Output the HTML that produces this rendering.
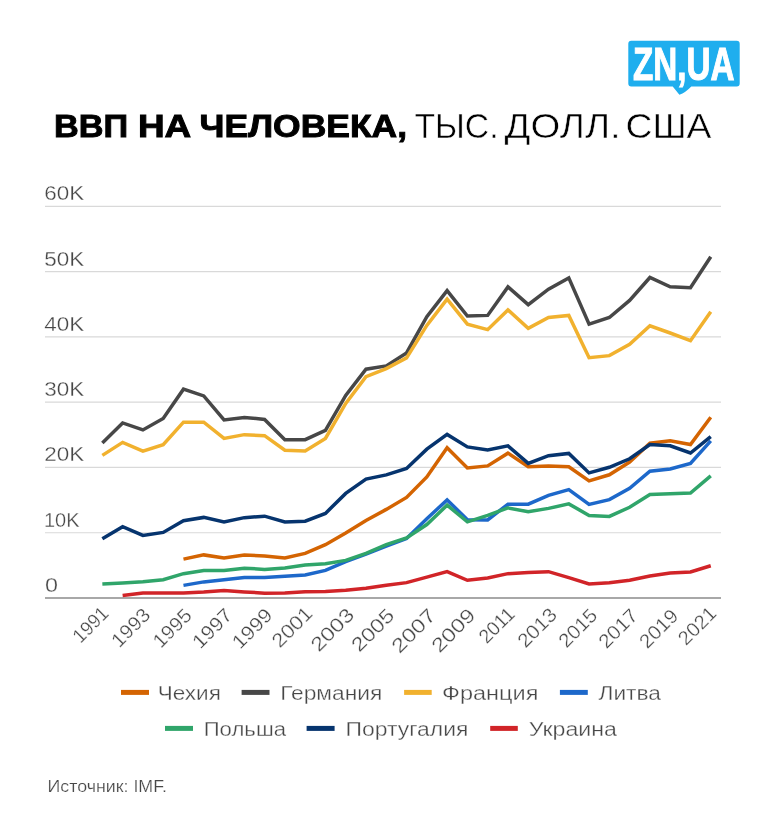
<!DOCTYPE html>
<html lang="ru"><head><meta charset="utf-8"><title>ВВП на человека, тыс. долл. США</title>
<style>html,body{margin:0;padding:0;background:#fff}body{width:784px;height:839px;overflow:hidden}svg{display:block}text{font-family:"Liberation Sans", sans-serif}</style></head><body>
<svg width="784" height="839" viewBox="0 0 784 839">
<rect width="784" height="839" fill="#ffffff"/>
<g id="logo">
<path d="M631.3 40.8H736.7a3 3 0 0 1 3 3V83.4a3 3 0 0 1 -3 3H691.3Q685.5 92.5 679.4 94.7L672.7 86.4H631.3a3 3 0 0 1 -3 -3V43.8a3 3 0 0 1 3 -3Z" fill="#1FAEEE"/>
<text x="633.0" y="79.8" font-size="45.6" font-weight="bold" fill="#ffffff" stroke="#ffffff" stroke-width="1.1" stroke-linejoin="miter" textLength="101.5" lengthAdjust="spacingAndGlyphs">ZN,UA</text>
</g>
<g id="title" fill="#000000">
<text y="137.20" font-size="31.60" font-weight="bold" stroke="#000000" stroke-width="0.90"><tspan x="53.90" textLength="74.15" lengthAdjust="spacingAndGlyphs">ВВП</tspan> <tspan x="137.96" textLength="53.33" lengthAdjust="spacingAndGlyphs">НА</tspan> <tspan x="199.61" textLength="207.47" lengthAdjust="spacingAndGlyphs">ЧЕЛОВЕКА,</tspan></text>
<text y="138.20" font-size="34.60" stroke="#ffffff" stroke-width="0.50"><tspan x="414.38" textLength="84.14" lengthAdjust="spacingAndGlyphs">ТЫС.</tspan> <tspan x="504.54" textLength="116.23" lengthAdjust="spacingAndGlyphs">ДОЛЛ.</tspan> <tspan x="625.42" textLength="86.13" lengthAdjust="spacingAndGlyphs">США</tspan></text>
</g>
<g id="grid" stroke="#d9d9d9" stroke-width="1.2">
<line x1="45.00" y1="206.40" x2="721.00" y2="206.40"/>
<line x1="45.00" y1="271.67" x2="721.00" y2="271.67"/>
<line x1="45.00" y1="336.93" x2="721.00" y2="336.93"/>
<line x1="45.00" y1="402.20" x2="721.00" y2="402.20"/>
<line x1="45.00" y1="467.47" x2="721.00" y2="467.47"/>
<line x1="45.00" y1="532.73" x2="721.00" y2="532.73"/>
</g>
<line x1="45.00" y1="598.00" x2="721.00" y2="598.00" stroke="#a8a8a8" stroke-width="2"/>
<g id="ylabels" fill="#474747" font-size="19.6" stroke="#ffffff" stroke-width="0.3">
<text x="44.3" y="200.15" textLength="40.0" lengthAdjust="spacingAndGlyphs">60K</text>
<text x="44.3" y="266.30" textLength="40.0" lengthAdjust="spacingAndGlyphs">50K</text>
<text x="44.3" y="331.25" textLength="40.0" lengthAdjust="spacingAndGlyphs">40K</text>
<text x="44.3" y="396.30" textLength="40.0" lengthAdjust="spacingAndGlyphs">30K</text>
<text x="44.3" y="461.25" textLength="40.0" lengthAdjust="spacingAndGlyphs">20K</text>
<text x="44.0" y="527.20" textLength="35.6" lengthAdjust="spacingAndGlyphs">10K</text>
<text x="45.0" y="592.00" textLength="13.0" lengthAdjust="spacingAndGlyphs">0</text>
</g>
<g id="series" fill="none" stroke-width="3.5" stroke-linejoin="miter" stroke-linecap="butt">
<polyline stroke="#D46402" points="183.47,559.15 203.75,554.90 224.03,557.90 244.31,554.90 264.59,555.90 284.87,557.90 305.15,553.40 325.43,544.65 345.71,532.90 365.99,520.40 386.27,509.40 406.55,497.40 426.83,476.90 447.11,447.80 467.39,467.90 487.67,465.90 507.95,453.15 528.23,466.65 548.51,465.90 568.79,466.80 589.07,480.90 609.35,474.80 629.63,462.00 649.91,443.25 670.19,440.75 690.47,444.50 710.75,417.20"/>
<polyline stroke="#474747" points="102.35,442.90 122.63,422.90 142.91,429.90 163.19,418.40 183.47,389.15 203.75,395.90 224.03,419.90 244.31,417.40 264.59,419.40 284.87,439.75 305.15,439.65 325.43,430.40 345.71,395.40 365.99,369.15 386.27,365.90 406.55,352.90 426.83,316.65 447.11,290.65 467.39,316.00 487.67,315.40 507.95,286.90 528.23,304.65 548.51,289.15 568.79,277.90 589.07,324.15 609.35,317.50 629.63,300.40 649.91,277.50 670.19,286.75 690.47,287.75 710.75,256.75"/>
<polyline stroke="#F1B12E" points="102.35,455.40 122.63,442.40 142.91,451.15 163.19,444.65 183.47,422.15 203.75,422.15 224.03,438.40 244.31,434.65 264.59,435.65 284.87,450.15 305.15,450.90 325.43,438.40 345.71,403.40 365.99,376.65 386.27,368.65 406.55,357.90 426.83,325.40 447.11,299.15 467.39,324.15 487.67,329.65 507.95,309.90 528.23,328.40 548.51,317.40 568.79,315.40 589.07,357.65 609.35,355.65 629.63,344.40 649.91,325.75 670.19,333.00 690.47,340.75 710.75,311.75"/>
<polyline stroke="#1D68CA" points="183.47,585.40 203.75,581.90 224.03,579.65 244.31,577.40 264.59,577.40 284.87,576.15 305.15,574.90 325.43,570.40 345.71,561.65 365.99,554.15 386.27,546.15 406.55,538.40 426.83,518.80 447.11,499.90 467.39,519.65 487.67,519.90 507.95,504.15 528.23,504.15 548.51,495.40 568.79,489.65 589.07,504.40 609.35,499.65 629.63,488.30 649.91,471.25 670.19,469.00 690.47,463.50 710.75,440.85"/>
<polyline stroke="#30A56A" points="102.35,583.90 122.63,582.90 142.91,581.65 163.19,579.65 183.47,573.65 203.75,570.40 224.03,570.40 244.31,568.15 264.59,569.40 284.87,568.00 305.15,564.90 325.43,563.65 345.71,560.40 365.99,553.40 386.27,544.65 406.55,537.90 426.83,524.55 447.11,505.15 467.39,521.80 487.67,515.40 507.95,507.90 528.23,511.65 548.51,508.40 568.79,503.90 589.07,515.40 609.35,516.40 629.63,507.30 649.91,494.50 670.19,493.75 690.47,493.00 710.75,475.85"/>
<polyline stroke="#06346E" points="102.35,538.65 122.63,526.65 142.91,535.40 163.19,532.40 183.47,520.65 203.75,517.40 224.03,521.90 244.31,517.65 264.59,516.15 284.87,522.00 305.15,521.15 325.43,513.40 345.71,493.40 365.99,479.15 386.27,474.90 406.55,468.40 426.83,449.15 447.11,434.40 467.39,446.90 487.67,449.90 507.95,445.90 528.23,463.40 548.51,455.65 568.79,453.40 589.07,472.90 609.35,467.30 629.63,458.80 649.91,444.50 670.19,445.75 690.47,453.00 710.75,436.60"/>
<polyline stroke="#D12428" points="122.63,595.40 142.91,592.90 163.19,592.90 183.47,592.90 203.75,591.90 224.03,590.40 244.31,591.90 264.59,593.15 284.87,593.00 305.15,591.65 325.43,591.40 345.71,590.15 365.99,588.15 386.27,585.15 406.55,582.65 426.83,577.15 447.11,571.65 467.39,580.30 487.67,577.90 507.95,573.65 528.23,572.40 548.51,571.65 568.79,577.65 589.07,583.90 609.35,582.80 629.63,580.15 649.91,576.00 670.19,573.00 690.47,572.00 710.75,565.75"/>
</g>
<g id="xlabels" fill="#474747" font-size="19.6" text-anchor="end" stroke="#ffffff" stroke-width="0.3">
<text transform="translate(109.95 614.64) rotate(-45)" textLength="41.5" lengthAdjust="spacingAndGlyphs">1991</text>
<text transform="translate(151.63 616.04) rotate(-45)" textLength="45.8" lengthAdjust="spacingAndGlyphs">1993</text>
<text transform="translate(193.03 616.74) rotate(-45)" textLength="45.7" lengthAdjust="spacingAndGlyphs">1995</text>
<text transform="translate(233.59 616.32) rotate(-45)" textLength="47.2" lengthAdjust="spacingAndGlyphs">1997</text>
<text transform="translate(273.73 616.46) rotate(-45)" textLength="47.6" lengthAdjust="spacingAndGlyphs">1999</text>
<text transform="translate(313.73 614.64) rotate(-45)" textLength="48.2" lengthAdjust="spacingAndGlyphs">2001</text>
<text transform="translate(355.41 616.04) rotate(-45)" textLength="52.0" lengthAdjust="spacingAndGlyphs">2003</text>
<text transform="translate(395.69 616.74) rotate(-45)" textLength="51.4" lengthAdjust="spacingAndGlyphs">2005</text>
<text transform="translate(437.09 616.74) rotate(-45)" textLength="53.0" lengthAdjust="spacingAndGlyphs">2007</text>
<text transform="translate(476.67 616.46) rotate(-45)" textLength="52.7" lengthAdjust="spacingAndGlyphs">2009</text>
<text transform="translate(515.97 615.34) rotate(-45)" textLength="41.4" lengthAdjust="spacingAndGlyphs">2011</text>
<text transform="translate(558.21 616.04) rotate(-45)" textLength="46.4" lengthAdjust="spacingAndGlyphs">2013</text>
<text transform="translate(598.49 616.74) rotate(-45)" textLength="45.3" lengthAdjust="spacingAndGlyphs">2015</text>
<text transform="translate(639.05 616.74) rotate(-45)" textLength="46.2" lengthAdjust="spacingAndGlyphs">2017</text>
<text transform="translate(679.47 617.16) rotate(-45)" textLength="45.6" lengthAdjust="spacingAndGlyphs">2019</text>
<text transform="translate(717.65 614.64) rotate(-45)" textLength="44.6" lengthAdjust="spacingAndGlyphs">2021</text>
</g>
<g id="legend" font-size="19.6" fill="#474747">
<line x1="121.0" y1="692.4" x2="149.0" y2="692.4" stroke="#D46402" stroke-width="5"/>
<text x="157.8" y="699.6" textLength="63.1" lengthAdjust="spacingAndGlyphs" stroke="#ffffff" stroke-width="0.3">Чехия</text>
<line x1="241.6" y1="692.4" x2="269.5" y2="692.4" stroke="#474747" stroke-width="5"/>
<text x="280.2" y="699.6" textLength="102.2" lengthAdjust="spacingAndGlyphs" stroke="#ffffff" stroke-width="0.3">Германия</text>
<line x1="404.1" y1="692.4" x2="431.7" y2="692.4" stroke="#F1B12E" stroke-width="5"/>
<text x="442.0" y="699.6" textLength="96.4" lengthAdjust="spacingAndGlyphs" stroke="#ffffff" stroke-width="0.3">Франция</text>
<line x1="559.9" y1="692.4" x2="587.8" y2="692.4" stroke="#1D68CA" stroke-width="5"/>
<text x="598.5" y="699.6" textLength="62.4" lengthAdjust="spacingAndGlyphs" stroke="#ffffff" stroke-width="0.3">Литва</text>
<line x1="165.0" y1="728.4" x2="193.0" y2="728.4" stroke="#30A56A" stroke-width="5"/>
<text x="203.7" y="735.6" textLength="82.3" lengthAdjust="spacingAndGlyphs" stroke="#ffffff" stroke-width="0.3">Польша</text>
<line x1="306.6" y1="728.4" x2="334.6" y2="728.4" stroke="#06346E" stroke-width="5"/>
<text x="345.6" y="735.6" textLength="122.8" lengthAdjust="spacingAndGlyphs" stroke="#ffffff" stroke-width="0.3">Португалия</text>
<line x1="490.2" y1="728.4" x2="517.8" y2="728.4" stroke="#D12428" stroke-width="5"/>
<text x="528.8" y="735.6" textLength="88.1" lengthAdjust="spacingAndGlyphs" stroke="#ffffff" stroke-width="0.3">Украина</text>
</g>
<text x="47.5" y="792" font-size="15.6" fill="#474747" stroke="#ffffff" stroke-width="0.2" textLength="119.5" lengthAdjust="spacingAndGlyphs">Источник: IMF.</text>
</svg>
</body></html>
